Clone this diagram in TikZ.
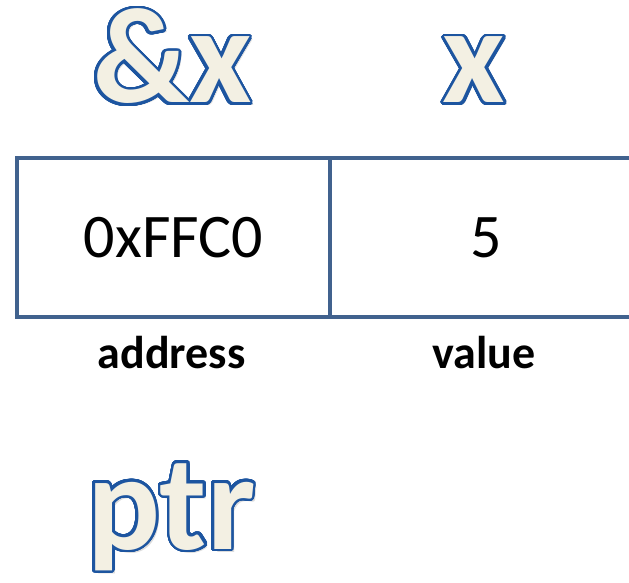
\documentclass[tikz,border=0pt]{standalone}
\usepackage{fontspec}
\setmainfont{Carlito}
\usepackage[copies]{contour}
\contournumber{48}
\definecolor{wafill}{HTML}{F3F0E3}
\definecolor{waline}{HTML}{1D55A0}
\definecolor{washadow}{HTML}{9A9A9A}
\definecolor{cellline}{HTML}{41628E}
\tikzset{
  wordart/.style={inner sep=0pt, font=\fontsize{136}{150}\selectfont\bfseries, text=wafill},
  washade/.style={wordart, text=washadow, opacity=0.35},
  cell/.style={draw=cellline, line width=4pt, minimum width=313pt, minimum height=159pt,
    inner sep=0pt, font=\fontsize{62}{72}\selectfont},
  caption/.style={font=\fontsize{46}{52}\selectfont\bfseries, inner sep=0pt}
}
% outlined display lettering: blue rim behind a cream face
\newcommand\wordartText[1]{\contourlength{2.8pt}\contour{waline}{#1}}
\begin{document}
\begin{tikzpicture}[x=1pt,y=-1pt]
  \useasboundingbox (0,0) rectangle (629,583);
  \clip (0,0) rectangle (629,583);

  % memory cell: address and value
  \node[cell, anchor=north west] (addr) at (15,156) {0xFFC0};
  \node[cell, anchor=north west] (val) at (328,156) {5};
  \node[caption, anchor=base] (addrlbl) at (171.5,368) {address};
  \node[caption, anchor=base] (vallbl) at (484,368) {value};

  % soft drop shadows
  \node[washade, anchor=base west] (ampsh) at (96,106) {\&x};
  \node[washade, anchor=base] (xvsh) at (477,106) {x};
  \node[washade, anchor=base west] (ptrsh) at (90,552) {ptr};

  % lettering
  \node[wordart, anchor=base west] (amp) at (93,103) {\wordartText{\&x}};
  \node[wordart, anchor=base] (xv) at (474,103) {\wordartText{x}};
  \node[wordart, anchor=base west] (ptr) at (87,549) {\wordartText{ptr}};
\end{tikzpicture}
\end{document}
